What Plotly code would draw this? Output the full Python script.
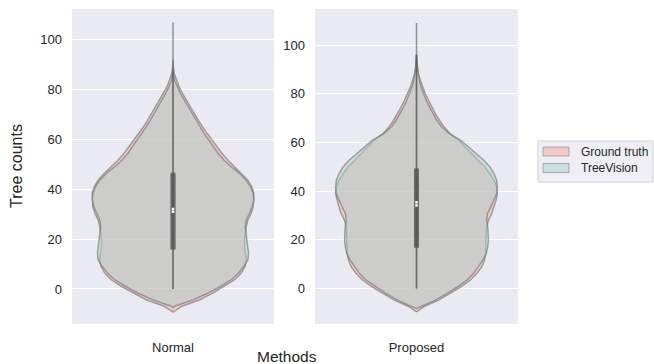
import plotly.graph_objects as go

# ---------------- data ----------------
categories = ["Normal", "Proposed"]
series_names = ["Ground truth", "TreeVision"]

# relative density profiles (max = 245) at value levels
normal_gt_y = [-9.3, -6.9, -4.3, -1.6, 1.1, 3.7, 6.4, 9.1, 11.7, 14.4, 17, 19.7, 22.4, 25, 27.7, 30.4, 33,
               35.7, 38.4, 41, 43.7, 46.4, 49, 51.7, 54.4, 57, 59.7, 62.4, 65, 67.7, 70.4, 73, 75.7, 78.4,
               81, 83.7, 86.4, 89, 92]
normal_gt_d = [0, 27, 82, 122, 157, 187, 207, 219, 222, 220, 217, 217, 219, 222, 227, 237, 243,
               245, 245, 239, 227, 209, 187, 167, 149, 134, 119, 104, 90, 77, 65, 54, 42, 29,
               19, 11, 4, 1, 0]

normal_tv_y = [-7.6, -6.9, -4.3, -1.6, 1.1, 3.7, 6.4, 9.1, 11.7, 14.4, 17, 19.7, 22.4, 25, 27.7, 30.4, 33,
               35.7, 38.4, 41, 43.7, 46.4, 49, 51.7, 54.4, 57, 59.7, 62.4, 65, 67.7, 70.4, 73, 75.7, 78.4,
               81, 83.7, 86.4, 89]
normal_tv_d = [0, 5, 62, 107, 145, 177, 199, 215, 227, 229, 227, 225, 222, 219, 222, 232, 240,
               245, 243, 235, 222, 202, 177, 155, 137, 124, 109, 95, 82, 69, 57, 47, 35, 23,
               13, 5, 1, 0]

proposed_gt_y = [-9.6, -7.5, -4.8, -2, 0.7, 3.4, 6.1, 8.9, 11.6, 14.3, 17.1, 19.8, 22.5, 25.3, 28, 30.7,
                 33.4, 36.2, 38.9, 41.6, 44.4, 47.1, 49.8, 52.6, 55.3, 58, 60.8, 63.5, 66.2, 68.9, 71.7,
                 74.4, 77.1, 79.9, 82.6, 85.3, 88.1, 90.8, 93.5, 96]
proposed_gt_d = [0, 22, 67, 102, 134, 162, 182, 197, 205, 209, 210, 210, 210, 212, 217, 227,
                 234, 240, 244, 242, 234, 222, 207, 187, 167, 147, 129, 102, 84, 70, 57,
                 47, 37, 27, 19, 12, 6, 3, 1, 0]

proposed_tv_y = [-8.3, -7.5, -4.8, -2, 0.7, 3.4, 6.1, 8.9, 11.6, 14.3, 17.1, 19.8, 22.5, 25.3, 28, 30.7,
                 33.4, 36.2, 38.9, 41.6, 44.4, 47.1, 49.8, 52.6, 55.3, 58, 60.8, 63.5, 66.2, 68.9, 71.7,
                 74.4, 77.1, 79.9, 82.6, 85.3, 88.1, 90.8, 93.5, 96]
proposed_tv_d = [0, 12, 57, 92, 124, 152, 172, 187, 200, 210, 215, 217, 217, 215, 212, 214,
                 224, 234, 242, 244, 242, 234, 222, 204, 182, 157, 134, 100, 77, 62, 50,
                 40, 30, 21, 14, 9, 5, 2, 1, 0]

# inner box statistics: [min, q1, median, q3, max]
normal_gt_stats = [0, 16, 32.1, 46.8, 107]
normal_tv_stats = [0, 15.8, 31.0, 46.2, 87]
proposed_gt_stats = [0, 16.6, 35.4, 49.4, 109]
proposed_tv_stats = [0, 17.0, 34.1, 49.0, 96]

y_ticks = [0, 20, 40, 60, 80, 100]

# ---------------- styling ----------------
BG = "#EAEAF2"
TXT = "#262626"
FONT = "Liberation Sans, Arial, sans-serif"
HALF_W = 0.4
D_MAX = 245.0
fills = ["rgba(250,166,164,0.5)", "rgba(166,210,202,0.5)"]
legend_fills = ["#F3C8CA", "#C9DDDC"]
edge = "rgba(120,120,120,0.65)"
inner = "rgba(85,85,85,0.6)"

panels = [
    (categories[0], [(normal_gt_y, normal_gt_d, normal_gt_stats), (normal_tv_y, normal_tv_d, normal_tv_stats)]),
    (categories[1], [(proposed_gt_y, proposed_gt_d, proposed_gt_stats), (proposed_tv_y, proposed_tv_d, proposed_tv_stats)]),
]

fig = go.Figure()
for pi, (cat, series) in enumerate(panels):
    xa = "x" if pi == 0 else "x2"
    ya = "y" if pi == 0 else "y2"
    for si, (ys, ds, st) in enumerate(series):
        w = [d / D_MAX * HALF_W for d in ds]
        px = [-v for v in w] + [v for v in w[::-1]]
        py = list(ys) + list(ys[::-1])
        fig.add_trace(go.Scatter(
            x=px, y=py, xaxis=xa, yaxis=ya, mode="lines", fill="toself",
            fillcolor=fills[si], line=dict(color=edge, width=1.5),
            name=series_names[si], showlegend=False, hoverinfo="skip"))
    for si, (ys, ds, st) in enumerate(series):
        fig.add_trace(go.Scatter(x=[0, 0], y=[st[0], st[4]], xaxis=xa, yaxis=ya, mode="lines",
                                 line=dict(color=inner, width=1.5), showlegend=False, hoverinfo="skip"))
        fig.add_trace(go.Scatter(x=[0, 0], y=[st[1], st[3]], xaxis=xa, yaxis=ya, mode="lines",
                                 line=dict(color=inner, width=5), showlegend=False, hoverinfo="skip"))
    for si, (ys, ds, st) in enumerate(series):
        fig.add_trace(go.Scatter(x=[0], y=[st[2]], xaxis=xa, yaxis=ya, mode="markers",
                                 marker=dict(color="white", size=2.5, symbol="square", line=dict(width=0)),
                                 showlegend=False, hoverinfo="skip"))

W, H = 654, 364
top, bottom = 9, 324
dom_y = [1 - bottom / H, 1 - top / H]
common_x = dict(range=[-0.5, 0.5], showgrid=False, zeroline=False, showline=False, ticks="",
                tickmode="array", tickvals=[0], tickfont=dict(size=13, color=TXT, family=FONT),
                ticklabelstandoff=14, automargin=False)
common_y = dict(showgrid=True, gridcolor="white", gridwidth=1, zeroline=False, showline=False, ticks="",
                tickmode="array", tickvals=y_ticks, tickfont=dict(size=13, color=TXT, family=FONT),
                ticklabelstandoff=9, automargin=False)

# legend drawn as shapes + text
shapes = [dict(type="rect", xref="paper", yref="paper", x0=538 / W, x1=653 / W,
               y0=1 - 182 / H, y1=1 - 141 / H, fillcolor="rgba(238,238,244,1)",
               line=dict(color="#D2D2D8", width=1), layer="above")]
annos = []
for i, nm in enumerate(series_names):
    yc = [151.5, 168][i]
    shapes.append(dict(type="rect", xref="paper", yref="paper", x0=543 / W, x1=569 / W,
                       y0=1 - (yc + 4.5) / H, y1=1 - (yc - 4.5) / H, fillcolor=legend_fills[i],
                       line=dict(color="rgba(110,110,110,0.5)", width=1), layer="above"))
    annos.append(dict(text=nm, x=579 / W, y=1 - yc / H, xref="paper", yref="paper", xanchor="left",
                      yanchor="middle", showarrow=False, font=dict(size=12, color=TXT, family=FONT)))

fig.update_layout(
    width=W, height=H, margin=dict(l=0, r=0, t=0, b=0),
    paper_bgcolor="white", plot_bgcolor=BG,
    font=dict(family=FONT, color=TXT),
    xaxis=dict(domain=[72 / W, 274 / W], ticktext=[categories[0]], anchor="y", **common_x),
    xaxis2=dict(domain=[315 / W, 518 / W], ticktext=[categories[1]], anchor="y2", **common_x),
    yaxis=dict(domain=dom_y, range=[-14.06, 112.4], anchor="x", **common_y),
    yaxis2=dict(domain=dom_y, range=[-14.6, 114.8], anchor="x2", **common_y),
    showlegend=False,
    hovermode=False,
    shapes=shapes,
    annotations=annos + [
        dict(text="Tree counts", x=17 / W, y=1 - 166 / H, xref="paper", yref="paper",
             xanchor="center", yanchor="middle",
             textangle=-90, showarrow=False, font=dict(size=16, color=TXT, family=FONT)),
        dict(text="Methods", x=287 / W, y=1 - 356 / H, xref="paper", yref="paper",
             xanchor="center", yanchor="middle",
             showarrow=False, font=dict(size=15.5, color=TXT, family=FONT)),
    ],
)

fig.write_html("out.html",
               config={"displayModeBar": False, "staticPlot": True},
               post_script="document.body.style.margin='0';document.body.style.padding='0';"
                           "document.documentElement.style.overflow='hidden';")
